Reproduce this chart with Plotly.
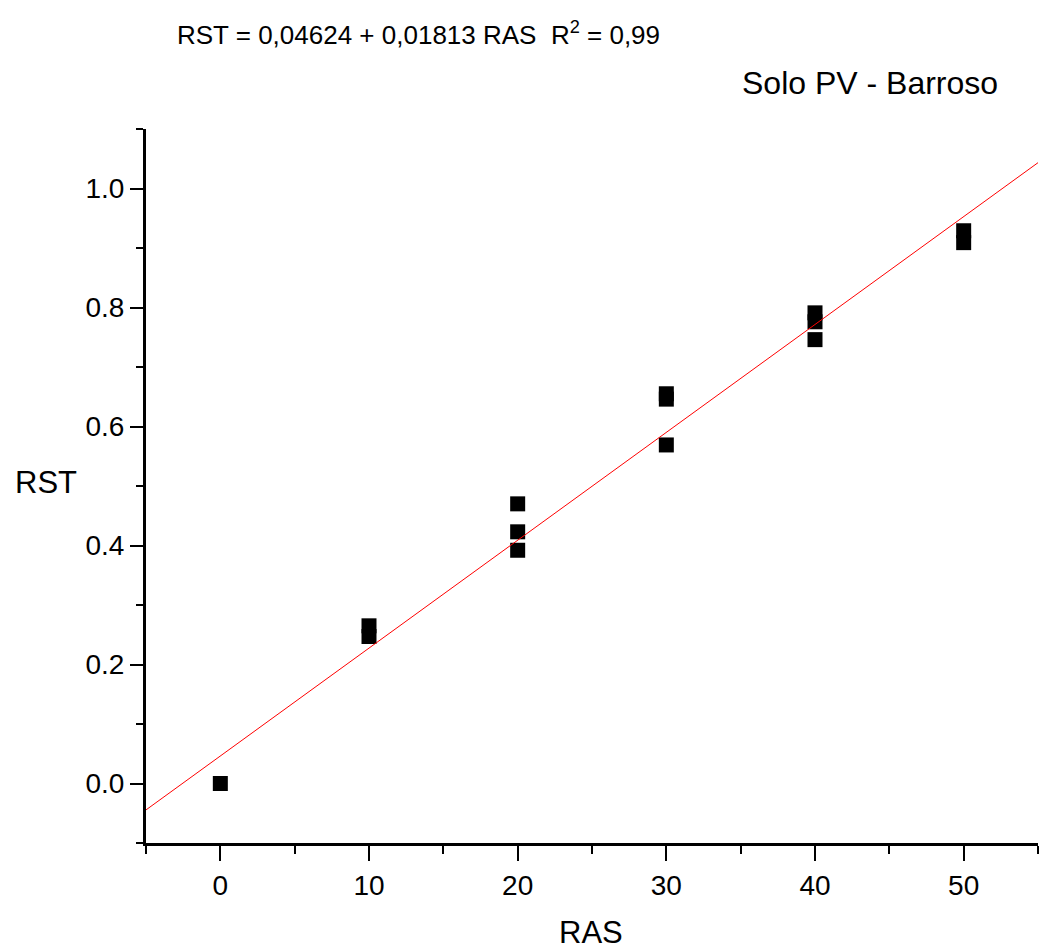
import plotly.graph_objects as go

# Data
ras = [0, 10, 10, 20, 20, 20, 30, 30, 30, 40, 40, 40, 50, 50]
rst = [0.0, 0.265, 0.247, 0.470, 0.423, 0.392, 0.655, 0.646, 0.569, 0.791, 0.776, 0.746, 0.929, 0.909]

fit_intercept = 0.04624
fit_slope = 0.01813
fit_x = [-5, 55]
fit_y = [fit_intercept + fit_slope * v for v in fit_x]

x_ticks = [0, 10, 20, 30, 40, 50]
y_ticks = [0.0, 0.2, 0.4, 0.6, 0.8, 1.0]
y_labels = ["0.0", "0.2", "0.4", "0.6", "0.8", "1.0"]

FONT = "Liberation Sans, Arial, sans-serif"

fig = go.Figure()
fig.add_trace(go.Scatter(
    x=ras, y=rst, mode="markers",
    marker=dict(symbol="square", size=15, color="black", line=dict(width=0)),
    showlegend=False, cliponaxis=False,
))
fig.add_trace(go.Scatter(
    x=fit_x, y=fit_y, mode="lines",
    line=dict(color="red", width=1),
    showlegend=False,
))

fig.update_layout(
    width=1041, height=949,
    margin=dict(l=146, r=3, t=129, b=106),
    paper_bgcolor="white", plot_bgcolor="white",
    font=dict(family=FONT, color="black", size=28),
    xaxis=dict(
        range=[-5, 55], tickmode="array", tickvals=x_ticks,
        ticks="outside", ticklen=15, tickwidth=2, tickcolor="black",
        minor=dict(dtick=5, tick0=0, ticks="outside", ticklen=8, tickwidth=2, tickcolor="black"),
        showline=True, linewidth=3, linecolor="black",
        showgrid=False, zeroline=False,
        tickfont=dict(size=28, family=FONT),
    ),
    yaxis=dict(
        range=[-0.1, 1.1], tickmode="array", tickvals=y_ticks, ticktext=y_labels,
        ticks="outside", ticklen=13, tickwidth=2, tickcolor="black",
        minor=dict(dtick=0.1, tick0=0, ticks="outside", ticklen=7, tickwidth=2, tickcolor="black"),
        showline=True, linewidth=3, linecolor="black",
        showgrid=False, zeroline=False,
        tickfont=dict(size=28, family=FONT),
    ),
    annotations=[
        dict(text="RST = 0,04624 + 0,01813 RAS  R<sup>2</sup> = 0,99",
             xref="paper", yref="paper", x=(175 - 146) / 892, y=(843 - 33) / 714,
             xanchor="left", yanchor="middle", showarrow=False,
             font=dict(size=26, family=FONT)),
        dict(text="Solo PV - Barroso",
             xref="paper", yref="paper", x=(1000 - 146) / 892, y=(843 - 83) / 714,
             xanchor="right", yanchor="middle", showarrow=False,
             font=dict(size=32, family=FONT)),
        dict(text="RST",
             xref="paper", yref="paper", x=(13 - 146) / 892, y=(843 - 482) / 714,
             xanchor="left", yanchor="middle", showarrow=False,
             font=dict(size=31, family=FONT)),
        dict(text="RAS",
             xref="paper", yref="paper", x=(591 - 146) / 892, y=(843 - 932) / 714,
             xanchor="center", yanchor="middle", showarrow=False,
             font=dict(size=31, family=FONT)),
    ],
)

fig.write_html("out.html")
